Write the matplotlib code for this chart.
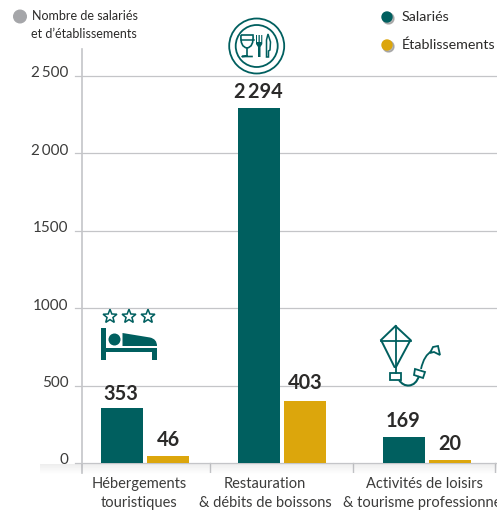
import matplotlib
matplotlib.use('Agg')
import matplotlib.pyplot as plt
from matplotlib.patches import Circle, Polygon, Rectangle, PathPatch
from matplotlib.path import Path
import numpy as np

plt.rcParams['font.family'] = ['Lato', 'DejaVu Sans']

# Data
categories = ['Hébergements\ntouristiques', 'Restauration\n& débits de boissons', 'Activités de loisirs\n& tourisme professionnel']
salaries = [353, 2294, 169]
etablissements = [46, 403, 20]
salaries_labels = ['353', '2\u2009294', '169']
etablissements_labels = ['46', '403', '20']
y_ticks = [0, 500, 1000, 1500, 2000, 2500]
y_tick_labels = ['0', '500', '1000', '1500', '2\u2009000', '2\u2009500']

# Colors
TEAL = '#005f5f'
GOLD = '#dca60c'
GRID = '#c4c5c8'
TEXT = '#2b2a29'
LABEL = '#3c3c3b'

W, H = 497, 513
fig = plt.figure(figsize=(W / 100, H / 100), dpi=100)

# Plot axes, x is in figure pixels so the groups can sit unevenly like the original
top_px, bottom_px = 49, 473
ax = fig.add_axes([82 / W, 1 - bottom_px / H, (W - 82) / W, (bottom_px - top_px) / H])
ax.set_xlim(82, W)
per_px = 500 / 77.4
ax.set_ylim(-(bottom_px - 463) * per_px, (463 - top_px) * per_px)

group_x = [145, 282, 427]
label_x = [139, 265, 424]
separators = [210, 353, 495]
bar_w = 42
offset = 23
gap = 16 * per_px

for i, x in enumerate(group_x):
    ax.bar(x - offset, salaries[i], bar_w, color=TEAL, zorder=3)
    ax.bar(x + offset, etablissements[i], bar_w, color=GOLD, zorder=3)
    # the 353 sits a little lower and the 403 a little higher in the original
    extra = -2 * per_px if salaries[i] == 353 else 0
    ax.text(x - offset - 1, salaries[i] + gap + extra, salaries_labels[i], ha='center', va='center',
            fontsize=14.3, fontweight='bold', color=TEXT, zorder=4)
    extra = 2 * per_px if etablissements[i] == 403 else 0
    ax.text(x + offset, etablissements[i] + gap + extra, etablissements_labels[i], ha='center', va='center',
            fontsize=14.3, fontweight='bold', color=TEXT, zorder=4)

# Grid and axis lines
for t, lab in zip(y_ticks, y_tick_labels):
    ax.plot([75, W], [t, t], color=GRID, lw=0.9, clip_on=False, zorder=1)
    ax.text(68.5, t + 2.5 * per_px, lab, ha='right', va='center',
            fontsize=11, color=LABEL, clip_on=False)
ax.axvline(82, color=GRID, lw=1.2, clip_on=False)
for s in separators:
    ax.plot([s, s], [ax.get_ylim()[0], 0], color=GRID, lw=1.0, zorder=1)

ax.set_yticks([])
ax.set_xticks(label_x)
ax.set_xticklabels(categories, fontsize=10.5, color=LABEL, linespacing=1.4)
ax.tick_params(axis='x', length=0, pad=3)
for side in ax.spines:
    ax.spines[side].set_visible(False)

# Overlay in pixel coordinates for the icons and the legend
ov = fig.add_axes([0, 0, 1, 1], zorder=5)
ov.patch.set_alpha(0)
ov.axis('off')

# Soft shadow under the base line
shade = np.linspace(1, 0, 32).reshape(-1, 1)
rgba = np.zeros((32, 1, 4))
rgba[..., :3] = 0.45
rgba[..., 3] = shade * 0.12
ov.imshow(rgba, extent=(40, W, 474, 464), aspect='auto', zorder=0)
ov.set_xlim(0, W)
ov.set_ylim(H, 0)

# Axis note
ov.add_patch(Circle((20, 16.5), 6.3, color='#a5a6a9'))
ov.text(32, 15.5, 'Nombre de salariés', fontsize=9, color=TEXT, va='center')
ov.text(31, 34, 'et d\u2019établissements', fontsize=9, color=TEXT, va='center')

# Legend
for y, c, lab in [(17, TEAL, 'Salariés'), (45, GOLD, 'Établissements')]:
    ov.add_patch(Circle((388.5, y + 1.5), 5.5, color='#8a8a8a', alpha=0.6))
    ov.add_patch(Circle((387, y), 5, color=c))
    ov.text(402, y, lab, fontsize=10.3, color=TEXT, va='center')

# Restaurant icon
ov.add_patch(Circle((256.7, 46), 27.5, fill=False, ec=TEAL, lw=1.3))
ov.add_patch(Circle((256.7, 46), 21, fill=False, ec=TEAL, lw=1.3))
ov.add_patch(PathPatch(Path([(241, 35), (253, 35), (254, 47), (247, 48), (240, 47), (241, 35)],
                            [Path.MOVETO, Path.LINETO, Path.CURVE3, Path.CURVE3, Path.CURVE3, Path.CURVE3]),
                       fill=False, ec=TEAL, lw=1.2))
ov.plot([240.5, 253.5], [40, 40], color=TEAL, lw=1.1)
ov.plot([247, 247, 242, 252], [48, 56, 56.5, 56.5], color=TEAL, lw=1.2)
ov.add_patch(Polygon([(256, 35), (257, 35), (257, 42), (258.5, 42), (258.5, 35), (259.8, 35), (259.8, 42),
                      (261.2, 42), (261.2, 35), (262.3, 35), (262.3, 44), (260.5, 47), (260.5, 57),
                      (258, 57), (258, 47), (256, 44)], color=TEAL, lw=0))
ov.add_patch(Polygon([(268, 34), (270.5, 42), (270, 50), (268.5, 51), (268.5, 57), (266.5, 57), (266.5, 40)],
                     fill=False, ec=TEAL, lw=1.1))

# Stars
for cx in [110, 129, 148]:
    a = np.pi / 2 + np.arange(10) * np.pi / 5
    r = np.where(np.arange(10) % 2 == 0, 7.3, 3.1)
    ov.add_patch(Polygon(np.c_[cx + r * np.cos(a), 316.5 - r * np.sin(a)], fill=False, ec=TEAL, lw=1.1))

# Bed
ov.add_patch(Rectangle((101, 328), 5, 32, color=TEAL, lw=0))
ov.add_patch(Rectangle((106, 348), 51, 3.5, color=TEAL, lw=0))
ov.add_patch(Rectangle((151.5, 348), 5.5, 12, color=TEAL, lw=0))
ov.add_patch(Circle((114.5, 339.5), 6, color=TEAL, lw=0))
ov.add_patch(PathPatch(Path([(122.5, 346), (122.5, 333), (150, 337.5), (157, 339), (157, 346), (122.5, 346)],
                            [Path.MOVETO, Path.LINETO, Path.LINETO, Path.CURVE3, Path.CURVE3, Path.LINETO]),
                       color=TEAL, lw=0))

# Kite
ov.add_patch(Polygon([(395.5, 326), (410.5, 340), (396, 367), (394.5, 367), (381, 340)], fill=False, ec=TEAL, lw=1.4))
ov.plot([395.5, 395.5], [326, 373], color=TEAL, lw=1.3)
ov.plot([381, 410.5], [341, 341], color=TEAL, lw=1.3)
ov.add_patch(Rectangle((390, 373), 11, 6.5, fill=False, ec=TEAL, lw=1.3))
ov.add_patch(Polygon([(415, 369), (425, 372), (423, 378), (414, 375)], fill=False, ec=TEAL, lw=1.3))
ov.add_patch(Polygon([(433, 347), (438, 346), (440, 355), (434, 352), (430, 353)], fill=False, ec=TEAL, lw=1.3))
ov.add_patch(PathPatch(Path([(399, 380), (403, 386), (409, 385.5), (416, 385), (419, 376)],
                            [Path.MOVETO, Path.CURVE3, Path.CURVE3, Path.CURVE3, Path.CURVE3]),
                       fill=False, ec=TEAL, lw=1.5))
ov.add_patch(PathPatch(Path([(421, 369), (424, 355), (432, 351)],
                            [Path.MOVETO, Path.CURVE3, Path.CURVE3]),
                       fill=False, ec=TEAL, lw=1.3))

fig.savefig('out.png', dpi=100)
